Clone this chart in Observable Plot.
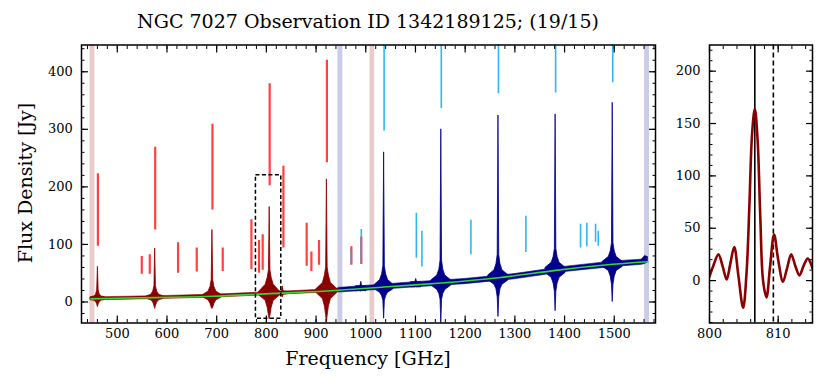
<!DOCTYPE html>
<html><head><meta charset="utf-8">
<script src="https://cdn.jsdelivr.net/npm/d3@7"></script>
<script src="https://cdn.jsdelivr.net/npm/@observablehq/plot@0.6"></script>
<style>
body{margin:0;background:#fff;}
#wrap{position:relative;width:830px;height:389px;font-family:"DejaVu Serif",serif;color:#000;}
#wrap svg{position:absolute;top:0;}
.t{position:absolute;white-space:nowrap;line-height:1;}
</style></head><body><div id="wrap"></div>
<script>
// ---------- data ----------
const titleText = "NGC 7027 Observation ID 1342189125; (19/15)";
const xLabelText = "Frequency [GHz]";
const yLabelText = "Flux Density [Jy]";

// continuum fit (green)
const contFreq = [447, 500, 576, 691, 806, 921, 1037, 1152, 1267, 1382, 1497, 1568];
const contFlux = [5.5, 6.5, 7.6, 10.0, 14.5, 19.0, 26.0, 33.0, 42.0, 55.0, 65.5, 70.0];

// noise band of each detector (lower / upper edge of the drawn spectrum between lines)
const slwBandFreq = [447, 520, 600, 700, 800, 900, 1018];
const slwBandLo   = [3.0, 4.1, 5.5, 7.8, 11.7, 15.7, 22.3];
const slwBandHi   = [8.0, 9.1, 10.5, 12.8, 16.7, 20.7, 27.3];
const sswBandFreq = [946, 1000, 1100, 1200, 1300, 1400, 1500, 1555, 1562, 1568];
const sswBandLo   = [16.5, 19.5, 25.5, 31.0, 39.5, 52.0, 61.0, 64.5, 66.0, 69.0];
const sswBandHi   = [24.5, 28.0, 34.5, 40.0, 48.5, 61.0, 70.5, 73.5, 80.0, 78.0];

// spectral lines: envelope of the drawn spectrum at offsets 0, 1.5, 4, 8 GHz from the centre,
// and the half width where the wings merge into the noise band
const wingOffsets = [0, 1.5, 4, 8];
const slwLineFreq = [461.04, 576.27, 691.47, 806.65, 833.0, 921.80];
const slwLineBase = [5.8, 7.6, 10.0, 14.5, 15.5, 19.0];
const slwLineHi = [[61, 20, 12, 9.5], [93, 28, 18, 12.5], [125, 38, 26, 18], [165, 55, 42, 30], [27, 19, 18, 18], [213, 60, 46, 33]];
const slwLineLo = [[-9, -4, 0, 2.5], [-12, -7, -1, 3], [-12, -10, -3, 3], [-30, -24, -10, 2], [8, 12, 13, 13], [-36, -24, -8, 5]];
const slwLineHalf = [14, 16, 18, 22, 9, 22];

const sswLineFreq = [991.0, 1036.91, 1101.5, 1151.99, 1267.01, 1381.99, 1496.92];
const sswLineBase = [23.0, 26.0, 30.0, 33.0, 42.0, 55.0, 65.5];
const sswLineHi = [[35, 28, 27.5, 27.5], [260, 62, 48, 38], [40, 35, 34.5, 34.5], [300, 72, 56, 46], [324, 82, 66, 55], [326, 92, 78, 68], [346, 102, 88, 78]];
const sswLineLo = [[18, 19, 19, 19], [-29, 2, 10, 16], [26, 25.5, 25.5, 25.5], [-38, 4, 14, 21], [-26, 8, 22, 30], [-16, 18, 32, 42], [0, 30, 44, 54]];
const sswLineHalf = [10, 18, 10, 20, 20, 20, 20];

// line-identification markers
const redMarkFreq = [461, 549.3, 565.4, 576.3, 622.3, 659.9, 691.5, 712.2, 769.9, 785.2, 792.6, 806.65, 834.3, 881.1, 890.6, 905.9, 921.8, 971, 991];
const redMarkLo   = [97, 48, 48, 125, 50, 52, 160, 53, 56, 50, 55, 202, 94, 62, 53, 64, 242, 64, 65];
const redMarkHi   = [223, 79, 82, 269, 103, 94, 309, 94, 143, 107, 117, 379, 236, 137, 87, 107, 420, 96, 113];
const blueMarkFreq = [971, 991, 1036.9, 1101.8, 1113, 1152, 1211.6, 1267, 1322.2, 1382, 1432.2, 1444.9, 1462.4, 1467.8, 1497];
const blueMarkLo   = [66, 69, 297, 76, 61, 336, 82, 362, 86, 363, 94, 96, 104, 97, 381];
const blueMarkHi   = [89, 126, 480, 154, 123, 480, 142, 480, 149, 480, 135, 137, 135, 123, 480];

// shaded edge regions of the two detectors
const shadeStart = [445, 1008.5, 944, 1561];
const shadeEnd   = [455, 1018, 954, 1571];
const shadeColor = ["darkred", "darkred", "darkblue", "darkblue"];

// zoom box drawn in the left panel
const boxFreq = [779, 830];
const boxFlux = [-29, 220];

// right panel: zoom on CO(7-6) with [CI] 2-1
const zoomFreq = [800.0, 800.6, 801.3, 801.9, 802.5, 803.0, 803.6, 804.2, 804.9, 805.4, 805.8, 806.2, 806.6, 807.0, 807.4, 807.8, 808.3, 808.8, 809.4, 810.0, 810.7, 811.3, 811.9, 812.5, 813.1, 813.7, 814.3, 815.0];
const zoomFlux = [4, 15, 25, 14, 1, 15, 32, 5, -26, 8, 70, 140, 164, 135, 60, 0, -16, 12, 44, 20, -1, 12, 25, 14, 5, 14, 21, 12];
const zoomSolidLine = [806.6];
const zoomDashedLine = [809.3];

// ticks
const xMajor = [500, 600, 700, 800, 900, 1000, 1100, 1200, 1300, 1400, 1500];
const xMinor = d3.range(440, 1581, 20);
const yMajor = [0, 100, 200, 300, 400];
const yMinor = d3.range(-20, 441, 20);
const zxMajor = [800, 810];
const zxMinor = d3.range(800, 815.1, 2);
const zyMajor = [0, 50, 100, 150, 200];
const zyMinor = d3.range(-40, 225, 10);

// ---------- build tables ----------
const cont = contFreq.map((f, i) => ({f, v: contFlux[i]}));
const slwBand = slwBandFreq.map((f, i) => ({f, lo: slwBandLo[i], hi: slwBandHi[i]}));
const sswBand = sswBandFreq.map((f, i) => ({f, lo: sswBandLo[i], hi: sswBandHi[i]}));
function linePolys(tag, freq, base, his, los, half, noise) {
  const rows = [];
  freq.forEach((f, i) => {
    rows.push({id: tag + i, f: f - half[i], lo: base[i] - noise, hi: base[i] + noise});
    for (let k = wingOffsets.length - 1; k > 0; k--)
      rows.push({id: tag + i, f: f - wingOffsets[k], lo: los[i][k], hi: his[i][k]});
    rows.push({id: tag + i, f, lo: los[i][0], hi: his[i][0]});
    for (let k = 1; k < wingOffsets.length; k++)
      rows.push({id: tag + i, f: f + wingOffsets[k], lo: los[i][k], hi: his[i][k]});
    rows.push({id: tag + i, f: f + half[i], lo: base[i] - noise, hi: base[i] + noise});
  });
  return rows;
}
const slwLines = linePolys("s", slwLineFreq, slwLineBase, slwLineHi, slwLineLo, slwLineHalf, 2.5);
const sswLines = linePolys("w", sswLineFreq, sswLineBase, sswLineHi, sswLineLo, sswLineHalf, 4.5);
const redMarks = redMarkFreq.map((f, i) => ({f, lo: redMarkLo[i], hi: redMarkHi[i]}));
const blueMarks = blueMarkFreq.map((f, i) => ({f, lo: blueMarkLo[i], hi: blueMarkHi[i]}));
const shades = shadeStart.map((a, i) => ({a, b: shadeEnd[i], c: shadeColor[i]}));
const box = [{x1: boxFreq[0], x2: boxFreq[1], y1: boxFlux[0], y2: boxFlux[1]}];
const zoom = zoomFreq.map((f, i) => ({f, v: zoomFlux[i]}));

const RED = "#8b0000", BLUE = "#00008b";
const blank = () => "";
const plain = d => String(d);
function frameAxes(xM, xm, yM, ym, padX, padY) {
  return [
    Plot.axisX(xM, {anchor: "bottom", tickSize: -7, tickPadding: padX, tickFormat: plain, label: null, strokeWidth: 1.2}),
    Plot.axisX(xm, {anchor: "bottom", tickSize: -3.5, tickFormat: blank, label: null, strokeWidth: 1}),
    Plot.axisX(xM, {anchor: "top", tickSize: -7, tickFormat: blank, label: null, strokeWidth: 1.2}),
    Plot.axisX(xm, {anchor: "top", tickSize: -3.5, tickFormat: blank, label: null, strokeWidth: 1}),
    Plot.axisY(yM, {anchor: "left", tickSize: -7, tickPadding: padY, tickFormat: plain, label: null, strokeWidth: 1.2}),
    Plot.axisY(ym, {anchor: "left", tickSize: -3.5, tickFormat: blank, label: null, strokeWidth: 1}),
    Plot.axisY(yM, {anchor: "right", tickSize: -7, tickFormat: blank, label: null, strokeWidth: 1.2}),
    Plot.axisY(ym, {anchor: "right", tickSize: -3.5, tickFormat: blank, label: null, strokeWidth: 1}),
    Plot.frame({stroke: "black", strokeWidth: 1.5})
  ];
}
const style = {fontFamily: "DejaVu Serif", fontSize: "13px", background: "transparent", overflow: "visible", color: "black"};

const left = Plot.plot({
  width: 660, height: 389,
  marginLeft: 81, marginRight: 5, marginTop: 44.5, marginBottom: 66.5,
  x: {domain: [428, 1583]},
  y: {domain: [-36.5, 446.5]},
  style,
  marks: [
    Plot.rect(shades, {x1: "a", x2: "b", fill: "c", fillOpacity: 0.2}),
    Plot.areaY(slwBand, {x: "f", y1: "lo", y2: "hi", fill: RED, stroke: RED, strokeWidth: 0.6, clip: true}),
    Plot.areaY(slwLines, {x: "f", y1: "lo", y2: "hi", z: "id", fill: RED, stroke: RED, strokeWidth: 0.8, clip: true}),
    Plot.areaY(sswBand, {x: "f", y1: "lo", y2: "hi", fill: BLUE, stroke: BLUE, strokeWidth: 0.6, clip: true}),
    Plot.areaY(sswLines, {x: "f", y1: "lo", y2: "hi", z: "id", fill: BLUE, stroke: BLUE, strokeWidth: 0.8, clip: true}),
    Plot.line(cont, {x: "f", y: "v", stroke: "#30d830", strokeWidth: 1.6, curve: "natural"}),
    Plot.ruleX(redMarks, {x: "f", y1: "lo", y2: "hi", stroke: "#ff2020", strokeOpacity: 0.85, strokeWidth: 2.2, clip: true}),
    Plot.ruleX(blueMarks, {x: "f", y1: "lo", y2: "hi", stroke: "#1aaeee", strokeOpacity: 0.9, strokeWidth: 1.6, clip: true}),
    Plot.rect(box, {x1: "x1", x2: "x2", y1: "y1", y2: "y2", fill: "none", stroke: "black", strokeWidth: 1.5, strokeDasharray: "4,2.5"}),
    ...frameAxes(xMajor, xMinor, yMajor, yMinor, 12.5, 15.7)
  ]
});

const right = Plot.plot({
  width: 170, height: 389,
  marginLeft: 49, marginRight: 18, marginTop: 44.5, marginBottom: 66.5,
  x: {domain: [800, 815]},
  y: {domain: [-40.5, 225]},
  style,
  marks: [
    Plot.ruleX(zoomSolidLine, {stroke: "black", strokeWidth: 1.6}),
    Plot.ruleX(zoomDashedLine, {stroke: "black", strokeWidth: 1.6, strokeDasharray: "5,3"}),
    Plot.line(zoom, {x: "f", y: "v", stroke: RED, strokeWidth: 2.6, curve: "catmull-rom", clip: true}),
    ...frameAxes(zxMajor, zxMinor, zyMajor, zyMinor, 12.5, 16)
  ]
});

const wrap = document.getElementById("wrap");
left.style.left = "0px";
right.style.left = "660px";
wrap.appendChild(left);
wrap.appendChild(right);

function addText(txt, css) {
  const d = document.createElement("div");
  d.className = "t";
  d.textContent = txt;
  Object.assign(d.style, css);
  wrap.appendChild(d);
  return d;
}
addText(titleText, {left: "368px", top: "12px", fontSize: "19px", transform: "translateX(-50%)"});
addText(xLabelText, {left: "368px", top: "349px", fontSize: "19px", transform: "translateX(-50%)"});
addText(yLabelText, {left: "25px", top: "183px", fontSize: "19px", transform: "translate(-50%,-50%) rotate(-90deg)"});
</script>
</body></html>
